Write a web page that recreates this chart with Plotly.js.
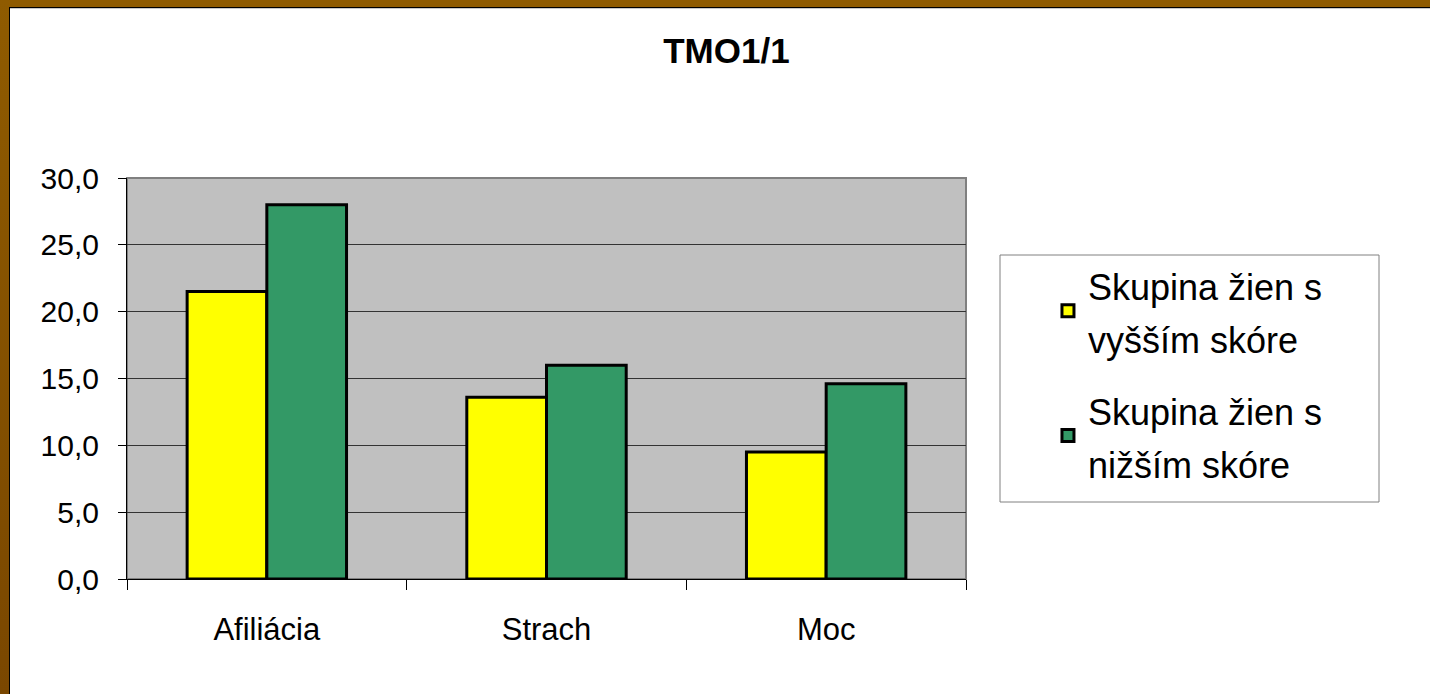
<!DOCTYPE html>
<html>
<head>
<meta charset="utf-8">
<script src="https://cdn.plot.ly/plotly-3.0.1.min.js"></script>
<style>
  html, body { margin: 0; padding: 0; background: #ffffff; }
  #wrap { position: relative; width: 1430px; height: 694px; overflow: hidden; }
  #chart { position: absolute; left: 0; top: 0; width: 1430px; height: 694px; }
  .bTop { position: absolute; left: 0; top: 0; width: 1430px; height: 7px; background: #8F5B00; pointer-events: none; }
  .bTopLine { position: absolute; left: 9px; top: 7px; width: 1421px; height: 1px; background: #000; pointer-events: none; }
  .bTopGray { position: absolute; left: 10px; top: 8px; width: 1420px; height: 1px; background: #c8c8c8; pointer-events: none; }
  .bLeft { position: absolute; left: 0; top: 0; width: 9px; height: 694px; background: linear-gradient(#8F5B00, #7A4700); pointer-events: none; }
  .bLeftLine { position: absolute; left: 9px; top: 7px; width: 1px; height: 687px; background: #000; pointer-events: none; }
</style>
</head>
<body>
<div id="wrap">
  <div id="chart"></div>
  <div class="bTop"></div>
  <div class="bTopLine"></div>
  <div class="bTopGray"></div>
  <div class="bLeft"></div>
  <div class="bLeftLine"></div>
</div>
<script>
const categories = ["Afiliácia", "Strach", "Moc"];
const seriesNames = ["Skupina žien s<br>vyšším skóre", "Skupina žien s<br>nižším skóre"];
const higherScore = [21.5, 13.6, 9.5];
const lowerScore = [28.0, 16.0, 14.6];
const yTicks = [0, 5, 10, 15, 20, 25, 30];

const font = "Arial, 'Liberation Sans', sans-serif";

function legendLabel(s) {
  return s.split("<br>").map(function (p) {
    return '<span style="font-size:36px">' + p + "</span>";
  }).join("<br>");
}

const traces = [
  {
    type: "bar", x: categories, y: higherScore, name: legendLabel(seriesNames[0]),
    legendgroup: "g1",
    marker: { color: "#FFFF00", line: { color: "#000000", width: 3 } },
    hoverinfo: "none"
  },
  {
    type: "bar", x: categories, y: lowerScore, name: legendLabel(seriesNames[1]),
    legendgroup: "g2",
    marker: { color: "#339966", line: { color: "#000000", width: 3 } },
    hoverinfo: "none"
  }
];

const layout = {
  width: 1430, height: 694,
  margin: { l: 127, r: 464, t: 178, b: 115, pad: 0 },
  paper_bgcolor: "#ffffff",
  plot_bgcolor: "#C0C0C0",
  separators: ",.",
  font: { family: font, color: "#000000" },
  barmode: "group",
  bargap: 0.43,
  bargroupgap: 0,
  showlegend: true,
  title: {
    text: "<b>TMO1/1</b>",
    font: { family: font, size: 35, color: "#000000" },
    xref: "container", yref: "container",
    x: 0.508, y: 0.927, xanchor: "center", yanchor: "middle"
  },
  xaxis: {
    type: "category",
    tickson: "boundaries",
    ticks: "outside", ticklen: 10, tickcolor: "#000000", tickwidth: 1,
    showline: true, linecolor: "#000000", linewidth: 1,
    showgrid: false,
    tickfont: { family: font, size: 31, color: "#000000" },
    ticklabelstandoff: 23,
    fixedrange: true
  },
  yaxis: {
    range: [0, 30],
    tickvals: yTicks,
    tickformat: ".1f",
    ticks: "outside", ticklen: 8, tickcolor: "#000000", tickwidth: 1,
    showline: true, linecolor: "#000000", linewidth: 1,
    showgrid: true, gridcolor: "#333333", gridwidth: 1,
    zeroline: false,
    tickfont: { family: font, size: 30, color: "#000000" },
    ticklabelstandoff: 13,
    fixedrange: true
  },
  legend: {
    x: 1.0977, y: 0.818, xanchor: "left", yanchor: "top",
    bgcolor: "rgba(0,0,0,0)", borderwidth: 0,
    font: { family: font, size: 41, color: "#000000" },
    traceorder: "grouped",
    tracegroupgap: 15
  },
  shapes: [
    {
      type: "rect", xref: "paper", yref: "paper",
      x0: 0, x1: 1, y0: 0, y1: 1,
      line: { color: "#808080", width: 2 }, fillcolor: "rgba(0,0,0,0)", layer: "below"
    },
    {
      type: "rect", xref: "paper", yref: "paper",
      x0: (1000 - 127) / 839, x1: (1379 - 127) / 839,
      y0: (579 - 502) / 401, y1: (579 - 255) / 401,
      line: { color: "#808080", width: 1 }, fillcolor: "#ffffff", layer: "below"
    }
  ]
};

Plotly.newPlot("chart", traces, layout, { displayModeBar: false, staticPlot: true });
</script>
</body>
</html>
